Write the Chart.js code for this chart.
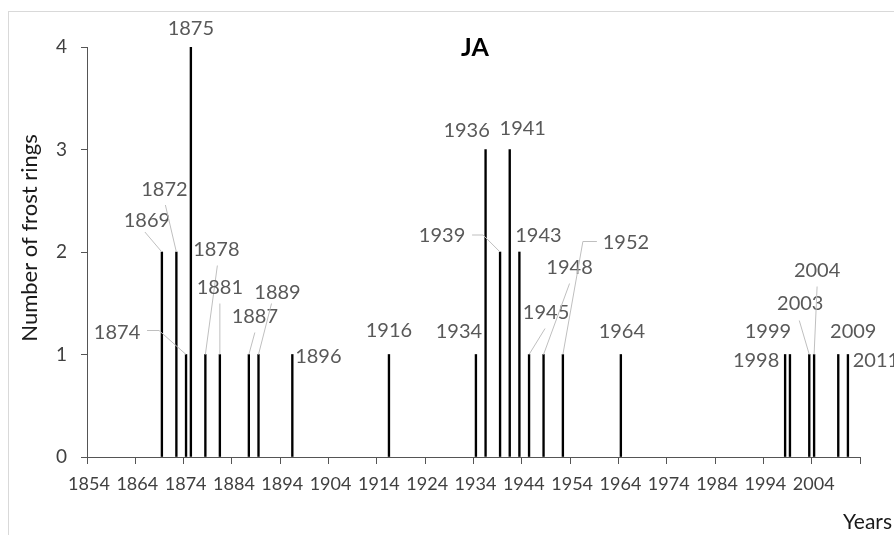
<!DOCTYPE html>
<html>
<head>
<meta charset="utf-8">
<script src="https://cdn.jsdelivr.net/npm/chart.js@4"></script>
<style>
	html, body { margin: 0; padding: 0; background: #fff; }
	#wrap { width: 894px; height: 535px; position: relative; }
</style>
</head>
<body>
<div id="wrap"><canvas id="frost-chart"></canvas></div>
<script>
// frost ring counts per year (site JA)
const years = [1869, 1872, 1874, 1875, 1878, 1881, 1887, 1889, 1896, 1916, 1934, 1936, 1939,
	1941, 1943, 1945, 1948, 1952, 1964, 1998, 1999, 2003, 2004, 2009, 2011];
const rings = [2, 2, 1, 4, 1, 1, 1, 1, 1, 1, 1, 3, 2,
	3, 2, 1, 1, 1, 1, 1, 1, 1, 1, 1, 1];
const xTicks = [1854, 1864, 1874, 1884, 1894, 1904, 1914, 1924, 1934, 1944, 1954, 1964, 1974, 1984, 1994, 2004, 2014];
const yTicks = [0, 1, 2, 3, 4];

// label placement, pixel offsets from the top of each bar: [dx, dy, leader points]
const labelOffsets = {
	1869: [-15, -31, [[-17, -20]]],
	1872: [-12, -62, [[-11, -47]]],
	1874: [-69, -22, [[-27, -24], [-39, -24]]],
	1875: [0, -18],
	1878: [11, -105, [[12, -89]]],
	1881: [0, -67, [[0, -51]]],
	1887: [6, -38, [[6, -22]]],
	1889: [19, -62, [[13, -51]]],
	1896: [26, 2],
	1916: [0, -24],
	1934: [-17, -23],
	1936: [-19, -19],
	1939: [-58, -16, [[-17, -17], [-28, -17]]],
	1941: [13, -21],
	1943: [19, -16],
	1945: [17, -42, [[16, -26]]],
	1948: [26, -87, [[26, -71]]],
	1952: [63, -112, [[20, -113], [34, -113]]],
	1964: [1, -23],
	1998: [-29, 6],
	1999: [-22, -23],
	2003: [-9, -51, [[-10, -34]]],
	2004: [3, -84, [[3, -68]]],
	2009: [15, -23],
	2011: [28, 6]
};

const font = 'Lato, "Open Sans", sans-serif';
const axisColor = '#555555';
const tickColor = '#404040';
const labelColor = '#595959';
const leaderColor = '#bfbfbf';

const framePlugin = {
	id: 'frame',
	beforeDraw(chart) {
		const { ctx } = chart;
		ctx.save();
		ctx.strokeStyle = '#d9d9d9';
		ctx.lineWidth = 1;
		ctx.strokeRect(8.5, 11.5, 1000, 1000);
		ctx.restore();
	}
};

const labelPlugin = {
	id: 'yearLabels',
	afterDatasetsDraw(chart) {
		const { ctx } = chart;
		const meta = chart.getDatasetMeta(0);
		ctx.save();
		ctx.font = '20px ' + font;
		ctx.textAlign = 'center';
		ctx.textBaseline = 'middle';
		years.forEach((yr, i) => {
			const el = meta.data[i];
			const off = labelOffsets[yr];
			if (!el || !off) return;
			const bx = el.x, by = el.y;
			if (off[2]) {
				ctx.strokeStyle = leaderColor;
				ctx.lineWidth = 1;
				ctx.beginPath();
				ctx.moveTo(bx, by);
				for (const p of off[2])
					ctx.lineTo(bx + p[0], by + p[1]);
				ctx.stroke();
			}
			ctx.fillStyle = labelColor;
			ctx.fillText(String(yr), bx + off[0], by + off[1]);
		});

		// titles
		ctx.fillStyle = '#000';
		ctx.font = 'bold 25px ' + font;
		ctx.fillText('JA', 475, 48);
		ctx.font = '21px ' + font;
		ctx.fillStyle = '#1a1a1a';
		ctx.textAlign = 'left';
		ctx.fillText('Years', 843, 522);
		ctx.translate(30, 238);
		ctx.rotate(-Math.PI / 2);
		ctx.textAlign = 'center';
		ctx.font = '22px ' + font;
		ctx.fillText('Number of frost rings', 0, 0);
		ctx.restore();
	}
};

new Chart(document.getElementById('frost-chart'), {
	type: 'bar',
	data: {
		datasets: [{
			label: 'Frost rings',
			// each year sits in the middle of its one-year slot
			data: years.map((yr, i) => ({ x: yr + 0.5, y: rings[i] })),
			backgroundColor: '#000000',
			barThickness: 1.7
		}]
	},
	options: {
		responsive: true,
		maintainAspectRatio: false,
		animation: false,
		layout: {
			padding: { top: 47, right: 34, left: 0, bottom: 0 }
		},
		plugins: {
			legend: { display: false },
			tooltip: { enabled: false }
		},
		scales: {
			x: {
				type: 'linear',
				offset: false,
				min: xTicks[0],
				max: xTicks[xTicks.length - 1],
				afterBuildTicks: s => { s.ticks = xTicks.map(v => ({ value: v })); },
				afterFit: s => { s.height = 78; },
				grid: { offset: false, drawOnChartArea: false, drawTicks: true, tickLength: 7, color: axisColor },
				border: { color: axisColor },
				ticks: {
					autoSkip: false,
					maxRotation: 0,
					padding: 9,
					labelOffset: 2,
					color: tickColor,
					font: { family: font, size: 18 },
					callback: v => v === 2014 ? '' : String(v)
				}
			},
			y: {
				min: 0,
				max: 4,
				afterBuildTicks: s => { s.ticks = yTicks.map(v => ({ value: v })); },
				afterFit: s => { s.width = 87; },
				grid: { drawOnChartArea: false, drawTicks: true, tickLength: 6, color: axisColor },
				border: { color: axisColor },
				ticks: {
					padding: 14,
					color: tickColor,
					font: { family: font, size: 19 }
				}
			}
		}
	},
	plugins: [framePlugin, labelPlugin]
});
</script>
</body>
</html>
